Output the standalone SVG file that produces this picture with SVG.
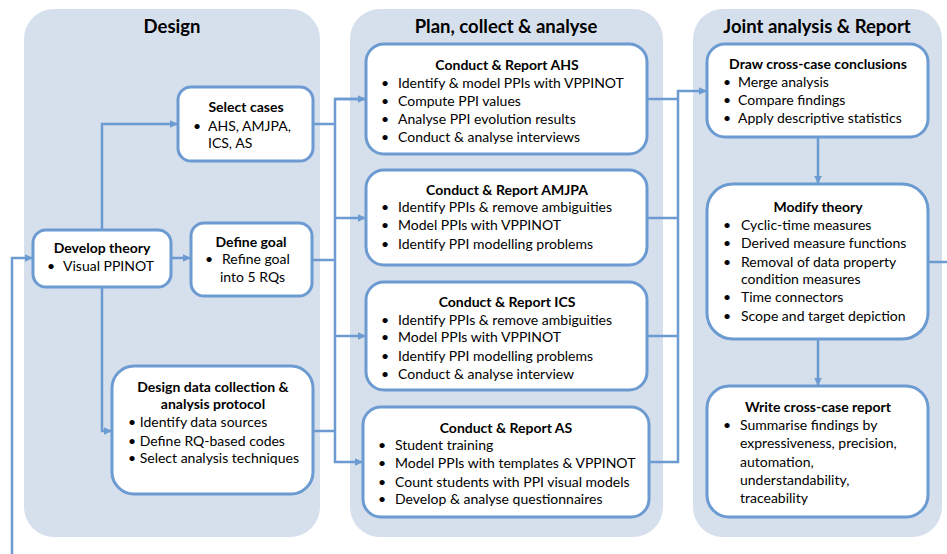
<svg xmlns="http://www.w3.org/2000/svg" width="947" height="554" viewBox="0 0 947 554">
<defs>
<style>
.panel{fill:#d6dfec;}
.node{fill:#ffffff;stroke:#6b9bd1;stroke-width:3;}
.ptitle{font-family:Lato,"Liberation Sans",sans-serif;font-weight:bold;font-size:18.5px;fill:#000;text-anchor:middle;}
.ntitle{font-family:Lato,"Liberation Sans",sans-serif;font-weight:bold;font-size:14px;fill:#000;text-anchor:middle;}
.t{font-family:Lato,"Liberation Sans",sans-serif;font-size:14px;fill:#000;}
.conn{fill:none;stroke:#6b9bd1;stroke-width:2.5;}
</style>
<marker id="arr" markerUnits="userSpaceOnUse" markerWidth="10" markerHeight="10" viewBox="0 0 10 10" refX="9" refY="5" orient="auto">
<path d="M1,1.2 L9,5 L1,8.8 z" fill="#6b9bd1"/>
</marker>
</defs>
<rect x="0" y="0" width="947" height="554" fill="#ffffff"/>
<g id="panels">
<rect class="panel" x="24" y="9" width="296" height="528" rx="30"/>
<rect class="panel" x="350" y="9" width="313" height="528" rx="30"/>
<rect class="panel" x="693" y="9" width="249" height="528" rx="30"/>
<text class="ptitle" x="172" y="33">Design</text>
<text class="ptitle" x="506" y="33">Plan, collect &amp; analyse</text>
<text class="ptitle" x="817" y="33">Joint analysis &amp; Report</text>
</g>
<g id="connectors">
<path class="conn" d="M928,262 H947"/>
<path class="conn" d="M12,554 V258 H33" marker-end="url(#arr)"/>
<path class="conn" d="M102,230 V124 H178" marker-end="url(#arr)"/>
<path class="conn" d="M171,258 H191" marker-end="url(#arr)"/>
<path class="conn" d="M102,287 V431 H112" marker-end="url(#arr)"/>
<path class="conn" d="M313,124 H335"/>
<path class="conn" d="M312,260 H335"/>
<path class="conn" d="M313,431 H335"/>
<path class="conn" d="M366,99 H335 V462 H363" marker-end="url(#arr)"/>
<path class="conn" d="M335,99 H366" marker-end="url(#arr)"/>
<path class="conn" d="M335,218 H366" marker-end="url(#arr)"/>
<path class="conn" d="M335,336 H366" marker-end="url(#arr)"/>
<path class="conn" d="M647,99 H678"/>
<path class="conn" d="M647,218 H678"/>
<path class="conn" d="M647,336 H678"/>
<path class="conn" d="M649,462 H678 V91 H707" marker-end="url(#arr)"/>
<path class="conn" d="M818,137 V184" marker-end="url(#arr)"/>
<path class="conn" d="M818,339 V386" marker-end="url(#arr)"/>
</g>
<g id="select-cases">
<rect class="node" x="178" y="87" width="135" height="74" rx="13"/>
<text class="ntitle" x="246" y="112">Select cases</text>
<text class="t" x="193" y="131">•</text>
<text class="t" x="208" y="131">AHS, AMJPA,</text>
<text class="t" x="208" y="148">ICS, AS</text>
</g>
<g id="develop-theory">
<rect class="node" x="33" y="230" width="138" height="57" rx="13"/>
<text class="ntitle" x="102" y="253">Develop theory</text>
<text class="t" x="47" y="271">•</text>
<text class="t" x="63" y="271">Visual PPINOT</text>
</g>
<g id="define-goal">
<rect class="node" x="191" y="223" width="121" height="73" rx="13"/>
<text class="ntitle" x="251" y="247">Define goal</text>
<text class="t" x="205" y="264">•</text>
<text class="t" x="222" y="264">Refine goal</text>
<text class="t" x="220" y="282">into 5 RQs</text>
</g>
<g id="design-protocol">
<rect class="node" x="112" y="366" width="201" height="128" rx="22"/>
<text class="ntitle" x="213" y="392">Design data collection &amp;</text>
<text class="ntitle" x="213" y="409">analysis protocol</text>
<text class="t" x="128" y="427">• Identify data sources</text>
<text class="t" x="128" y="446">• Define RQ-based codes</text>
<text class="t" x="128" y="463">• Select analysis techniques</text>
</g>
<g id="report-ahs">
<rect class="node" x="366" y="44" width="281" height="110" rx="18"/>
<text class="ntitle" x="507" y="70">Conduct &amp; Report AHS</text>
<text class="t" x="381" y="88">•</text><text class="t" x="398" y="88">Identify &amp; model PPIs with VPPINOT</text>
<text class="t" x="381" y="106">•</text><text class="t" x="398" y="106">Compute PPI values</text>
<text class="t" x="381" y="124">•</text><text class="t" x="398" y="124">Analyse PPI evolution results</text>
<text class="t" x="381" y="142">•</text><text class="t" x="398" y="142">Conduct &amp; analyse interviews</text>
</g>
<g id="report-amjpa">
<rect class="node" x="366" y="170" width="281" height="95" rx="18"/>
<text class="ntitle" x="507" y="195">Conduct &amp; Report AMJPA</text>
<text class="t" x="381" y="212">•</text><text class="t" x="398" y="212">Identify PPIs &amp; remove ambiguities</text>
<text class="t" x="381" y="230">•</text><text class="t" x="398" y="230">Model PPIs with VPPINOT</text>
<text class="t" x="381" y="249">•</text><text class="t" x="398" y="249">Identify PPI modelling problems</text>
</g>
<g id="report-ics">
<rect class="node" x="366" y="282" width="281" height="108" rx="18"/>
<text class="ntitle" x="507" y="307">Conduct &amp; Report ICS</text>
<text class="t" x="381" y="325">•</text><text class="t" x="398" y="325">Identify PPIs &amp; remove ambiguities</text>
<text class="t" x="381" y="342">•</text><text class="t" x="398" y="342">Model PPIs with VPPINOT</text>
<text class="t" x="381" y="361">•</text><text class="t" x="398" y="361">Identify PPI modelling problems</text>
<text class="t" x="381" y="379">•</text><text class="t" x="398" y="379">Conduct &amp; analyse interview</text>
</g>
<g id="report-as">
<rect class="node" x="363" y="407" width="286" height="110" rx="18"/>
<text class="ntitle" x="506" y="433">Conduct &amp; Report AS</text>
<text class="t" x="378" y="450">•</text><text class="t" x="395" y="450">Student training</text>
<text class="t" x="378" y="468">•</text><text class="t" x="395" y="468">Model PPIs with templates &amp; VPPINOT</text>
<text class="t" x="378" y="487">•</text><text class="t" x="395" y="487">Count students with PPI visual models</text>
<text class="t" x="378" y="504">•</text><text class="t" x="395" y="504">Develop &amp; analyse questionnaires</text>
</g>
<g id="cross-case-conclusions">
<rect class="node" x="707" y="44" width="221" height="93" rx="18"/>
<text class="ntitle" x="818" y="69">Draw cross-case conclusions</text>
<text class="t" x="723" y="87">•</text><text class="t" x="738" y="87">Merge analysis</text>
<text class="t" x="723" y="105">•</text><text class="t" x="738" y="105">Compare findings</text>
<text class="t" x="723" y="123">•</text><text class="t" x="738" y="123">Apply descriptive statistics</text>
</g>
<g id="modify-theory">
<rect class="node" x="707" y="184" width="221" height="155" rx="26"/>
<text class="ntitle" x="818" y="212">Modify theory</text>
<text class="t" x="723" y="230">•</text><text class="t" x="741" y="230">Cyclic-time measures</text>
<text class="t" x="723" y="248">•</text><text class="t" x="741" y="248">Derived measure functions</text>
<text class="t" x="723" y="267">•</text><text class="t" x="741" y="267">Removal of data property</text>
<text class="t" x="741" y="284">condition measures</text>
<text class="t" x="723" y="302">•</text><text class="t" x="741" y="302">Time connectors</text>
<text class="t" x="723" y="321">•</text><text class="t" x="741" y="321">Scope and target depiction</text>
</g>
<g id="cross-case-report">
<rect class="node" x="707" y="386" width="221" height="131" rx="22"/>
<text class="ntitle" x="818" y="412">Write cross-case report</text>
<text class="t" x="723" y="430">•</text><text class="t" x="740" y="430">Summarise findings by</text>
<text class="t" x="740" y="448">expressiveness, precision,</text>
<text class="t" x="740" y="467">automation,</text>
<text class="t" x="740" y="485">understandability,</text>
<text class="t" x="740" y="503">traceability</text>
</g>
</svg>
